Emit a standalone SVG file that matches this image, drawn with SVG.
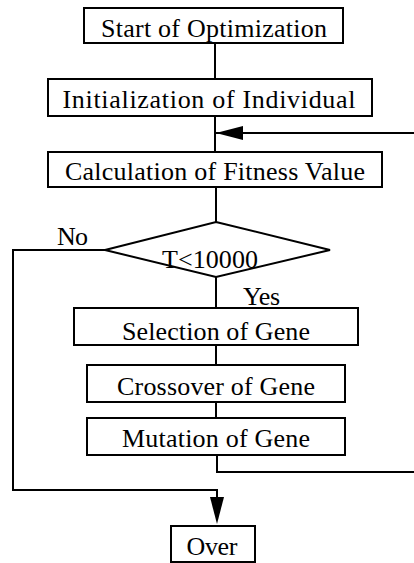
<svg xmlns="http://www.w3.org/2000/svg" width="414" height="563" viewBox="0 0 414 563">
<defs>
<style>
.box{fill:#fff;stroke:#000;stroke-width:2}
.ln{fill:none;stroke:#000;stroke-width:2}
text{font-family:"Liberation Serif","Times New Roman",serif;font-size:26px;fill:#000}
.c{text-anchor:middle}
</style>
</defs>
<rect width="414" height="563" fill="#fff"/>
<g id="connectors">
<line class="ln" x1="215" y1="43" x2="215" y2="79"/>
<line class="ln" x1="215" y1="116" x2="215" y2="152"/>
<line class="ln" x1="414" y1="133" x2="216" y2="133"/>
<path d="M216,133 L243,126 L243,140 Z" fill="#000"/>
<line class="ln" x1="216" y1="187" x2="216" y2="222"/>
<line class="ln" x1="216" y1="277" x2="216" y2="308"/>
<line class="ln" x1="216" y1="345" x2="216" y2="365"/>
<line class="ln" x1="216" y1="402" x2="216" y2="418"/>
<polyline class="ln" points="217,455 217,472 414,472"/>
<polyline class="ln" points="105,250 13,250 13,490 217,490 217,500"/>
<path d="M210,497 L224,497 L217,524 Z" fill="#000"/>
</g>
<g id="start"><rect class="box" x="84" y="8" width="259" height="35"/><text class="c" x="214" y="37" textLength="226">Start of Optimization</text></g>
<g id="init"><rect class="box" x="48" y="79" width="324" height="37"/><text class="c" x="209" y="108" textLength="293">Initialization of Individual</text></g>
<g id="calc"><rect class="box" x="48" y="152" width="334" height="35"/><text class="c" x="215" y="180" textLength="300">Calculation of Fitness Value</text></g>
<g id="decision"><polygon class="box" points="216,222 330,250 216,277 105,250"/><text class="c" x="210" y="268" textLength="96">T&lt;10000</text></g>
<g id="no-label"><text x="57" y="245" textLength="31">No</text></g>
<g id="yes-label"><text x="243" y="305" textLength="37">Yes</text></g>
<g id="selection"><rect class="box" x="74" y="308" width="284" height="37"/><text class="c" x="216" y="340" textLength="188">Selection of Gene</text></g>
<g id="crossover"><rect class="box" x="87" y="365" width="258" height="37"/><text class="c" x="216" y="395" textLength="198">Crossover of Gene</text></g>
<g id="mutation"><rect class="box" x="87" y="418" width="258" height="37"/><text class="c" x="216" y="447" textLength="188">Mutation of Gene</text></g>
<g id="over"><rect class="box" x="171" y="526" width="84" height="36"/><text class="c" x="212" y="555" textLength="51">Over</text></g>
</svg>
